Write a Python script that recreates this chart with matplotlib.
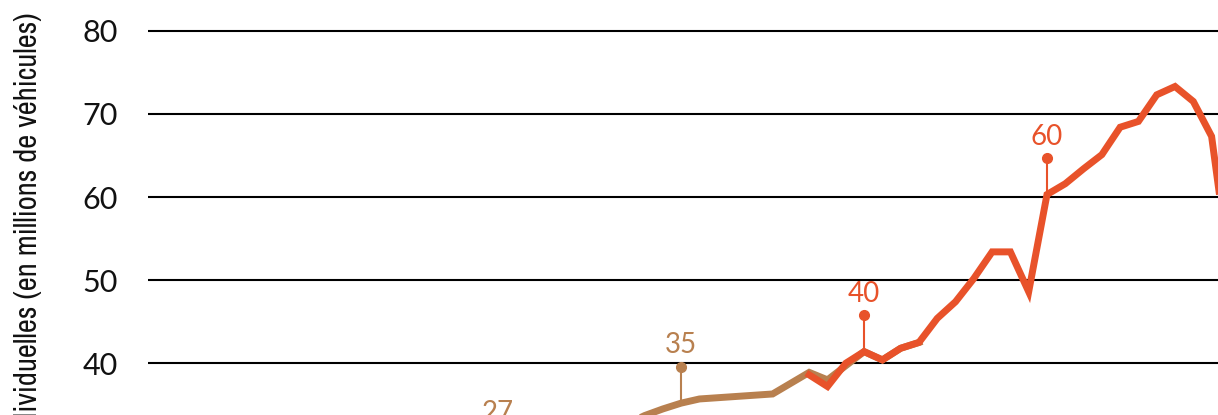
import matplotlib.pyplot as plt
from matplotlib import font_manager

# ventes mondiales de voitures (millions)
years_old = [1980, 1985, 1988, 1989, 1990, 1991, 1995, 1997, 1998, 2000, 2001, 2002, 2003]
sales_old = [27.0, 30.5, 33.7, 34.5, 35.2, 35.7, 36.3, 38.9, 38.0, 41.4, 40.4, 41.8, 42.5]

years_new = [1997, 1998, 1999, 2000, 2001, 2002, 2003, 2004, 2005, 2006, 2007, 2008, 2009,
             2010, 2011, 2012, 2013, 2014, 2015, 2016, 2017, 2018, 2019, 2020]
sales_new = [38.6, 37.2, 40.0, 41.4, 40.4, 41.8, 42.5, 45.4, 47.4, 50.2, 53.4, 53.4, 48.6,
             60.3, 61.6, 63.4, 65.1, 68.4, 69.1, 72.3, 73.3, 71.5, 67.3, 51.0]

marker_years = [1980, 1990, 2000, 2010]
marker_labels = ['27', '35', '40', '60']
marker_series = ['old', 'old', 'new', 'new']

BROWN = '#B8804F'
ORANGE = '#E8522A'

# pick a condensed face for the axis title if one is installed
narrow = None
for f in font_manager.fontManager.ttflist:
    if 'ondensed' in f.name or 'Narrow' in f.name:
        narrow = f.name
        break
narrow_stretch = 'normal'
if narrow is None:
    for f in font_manager.fontManager.ttflist:
        if f.stretch in ('condensed', 'semi-condensed', 'extra-condensed') and f.style == 'normal':
            narrow = f.name
            narrow_stretch = f.stretch
            break
if narrow is None:
    narrow = 'Roboto'

fig = plt.figure(figsize=(12.18, 4.15), dpi=100)
ax = fig.add_axes([148 / 1218, 0, 1 - 148 / 1218, 1])

ax.plot(years_old, sales_old, color=BROWN, lw=5, solid_joinstyle='miter', zorder=3)
ax.plot(years_new, sales_new, color=ORANGE, lw=5, solid_joinstyle='miter', zorder=4)

lookup = {'old': dict(zip(years_old, sales_old)), 'new': dict(zip(years_new, sales_new))}
for yr, lab, s in zip(marker_years, marker_labels, marker_series):
    col = BROWN if s == 'old' else ORANGE
    base = lookup[s][yr]
    top = base + 4.4
    ax.plot([yr, yr], [base, top], color=col, lw=1.5, zorder=2)
    ax.plot(yr, top, 'o', color=col, ms=7, zorder=5)
    ax.text(yr, top + 1.0, lab, color=col, ha='center', va='bottom',
            fontsize=20, family='Lato')

ax.set_xlim(1960.85, 2019.35)
ax.set_ylim(33.77, 83.71)
ax.set_yticks([40, 50, 60, 70, 80])
ax.yaxis.grid(True, color='black', lw=1.5)
ax.set_axisbelow(True)
ax.tick_params(axis='y', length=0, pad=22, labelsize=22, labelcolor='#111111')
for t in ax.get_yticklabels():
    t.set_family('Lato')
ax.set_xticks([])
for sp in ax.spines.values():
    sp.set_visible(False)

fig.text(28 / 1218, 1 - 12 / 415, 'Ventes de voitures individuelles (en millions de véhicules)',
         rotation=90, ha='center', va='top', fontsize=22, family=narrow,
         fontstretch=narrow_stretch, fontweight='light', color='#111111')

fig.savefig('out.png', dpi=100)
